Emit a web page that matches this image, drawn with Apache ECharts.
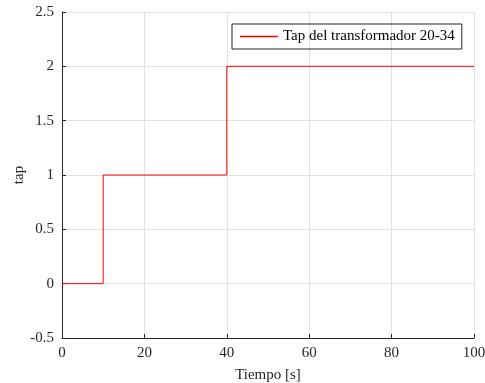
<!DOCTYPE html>
<html>
<head>
<meta charset="utf-8">
<script src="https://cdn.jsdelivr.net/npm/echarts@6/dist/echarts.min.js"></script>
<style>
  html, body { margin: 0; padding: 0; background: #fff; }
  #chart { width: 485px; height: 383px; }
</style>
</head>
<body>
<div id="chart"></div>
<script>
// tap changes of transformer 20-34 over time
const tiempo = [0, 10, 10, 40, 40, 100]
const tap = [0, 0, 1, 1, 2, 2]
const xTicks = [0, 20, 40, 60, 80, 100]
const yTicks = [-0.5, 0, 0.5, 1, 1.5, 2, 2.5]

const font = 'Liberation Serif, Times New Roman, serif'
const axisColor = '#262626'
const gridColor = '#e0e0e0'

const chart = echarts.init(document.getElementById('chart'), null, { renderer: 'canvas' })

chart.setOption({
  backgroundColor: '#fff',
  animation: false,
  grid: { left: 62, right: 11, top: 12, bottom: 45, containLabel: false, outerBoundsMode: 'none' },
  legend: {
    left: 232, top: 24,
    padding: [5, 7, 5, 8],
    borderColor: axisColor,
    borderWidth: 1,
    icon: 'rect',
    itemWidth: 38, itemHeight: 1.5,
    textStyle: { fontFamily: font, fontSize: 15, color: '#000' },
    data: ['Tap del transformador 20-34']
  },
  xAxis: {
    type: 'value',
    min: xTicks[0], max: xTicks[xTicks.length - 1], interval: 20,
    name: 'Tiempo [s]', nameLocation: 'middle', nameGap: 30,
    nameTextStyle: { fontFamily: font, fontSize: 15, color: axisColor },
    axisLine: { onZero: false, lineStyle: { color: axisColor, width: 1 } },
    axisTick: { inside: true, length: 4, lineStyle: { color: axisColor } },
    axisLabel: { fontFamily: font, fontSize: 15, color: axisColor, margin: 8 },
    splitLine: { show: true, lineStyle: { color: gridColor } }
  },
  yAxis: {
    type: 'value',
    min: yTicks[0], max: yTicks[yTicks.length - 1], interval: 0.5,
    name: 'tap', nameLocation: 'middle', nameGap: 35, nameMoveOverlap: false,
    nameTextStyle: { fontFamily: font, fontSize: 15, color: axisColor },
    axisLine: { show: true, onZero: false, lineStyle: { color: axisColor, width: 1 } },
    axisTick: { show: true, inside: true, length: 4, lineStyle: { color: axisColor } },
    axisLabel: { fontFamily: font, fontSize: 15, color: axisColor, margin: 8 },
    splitLine: { show: true, lineStyle: { color: gridColor } }
  },
  series: [{
    name: 'Tap del transformador 20-34',
    type: 'line',
    symbol: 'none',
    z: 5,
    data: tiempo.map((t, i) => [t, tap[i]]),
    lineStyle: { color: '#ff0000', width: 1 },
    itemStyle: { color: '#ff0000' }
  }]
})
</script>
</body>
</html>
